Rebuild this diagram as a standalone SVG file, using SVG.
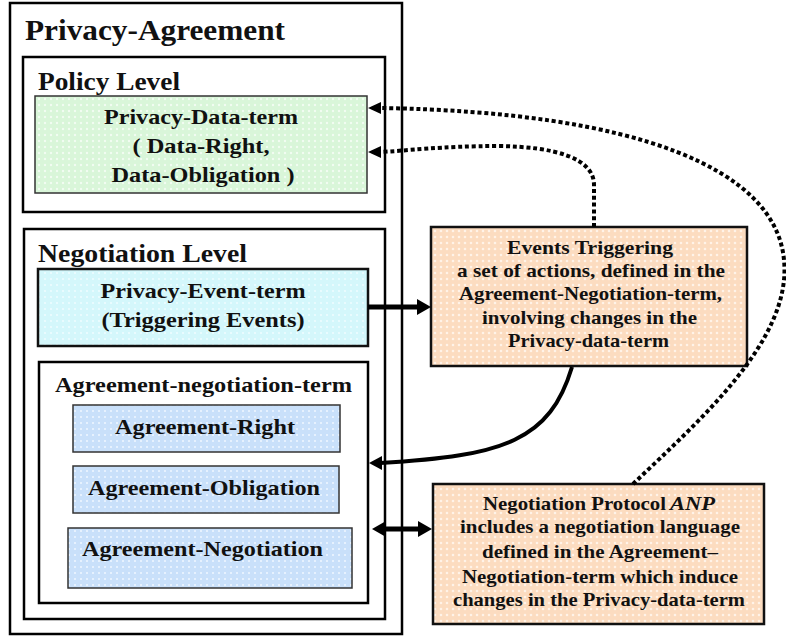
<svg xmlns="http://www.w3.org/2000/svg" width="786" height="637" viewBox="0 0 786 637">
  <style>
    text { font-family: "Liberation Serif", "Times New Roman", serif; font-weight: bold; fill: #111; }
    .frame { fill: #fff; stroke: #000; stroke-width: 2.5; }
    .term { stroke: #333; stroke-width: 1.5; }
    .note { stroke: #111; stroke-width: 2.5; }
    .h1 { font-size: 29px; }
    .h2 { font-size: 25px; }
    .t { font-size: 22px; }
    .n { font-size: 19px; }
    .mid { text-anchor: middle; }
    .solid { fill: none; stroke: #000; }
    .dots { fill: none; stroke: #000; stroke-width: 4; stroke-dasharray: 4 2.8; }
    .head { fill: #000; }
  </style>
  <defs>
    <pattern id="fillGreen" width="6" height="6" patternUnits="userSpaceOnUse">
      <rect width="6" height="6" fill="#d9f6d9"/>
      <circle cx="3" cy="3" r="1.2" fill="#f2fdf2"/>
    </pattern>
    <pattern id="fillCyan" width="6" height="6" patternUnits="userSpaceOnUse">
      <rect width="6" height="6" fill="#d4f7fb"/>
      <circle cx="3" cy="3" r="1.1" fill="#eefdff"/>
    </pattern>
    <pattern id="fillBlue" width="6" height="6" patternUnits="userSpaceOnUse">
      <rect width="6" height="6" fill="#c9e0fa"/>
      <circle cx="3" cy="3" r="1.1" fill="#eef6ff"/>
    </pattern>
    <pattern id="fillPeach" width="6" height="6" patternUnits="userSpaceOnUse">
      <rect width="6" height="6" fill="#fcdcc0"/>
      <circle cx="3" cy="3" r="1.3" fill="#fff3e8"/>
    </pattern>
  </defs>

  <!-- outer container -->
  <g id="privacy-agreement">
    <rect class="frame" x="10" y="3" width="392" height="631"/>
    <text class="h1" x="25" y="40" textLength="260" lengthAdjust="spacingAndGlyphs">Privacy-Agreement</text>
  </g>

  <!-- policy level -->
  <g id="policy-level">
    <rect class="frame" x="23" y="57" width="362" height="155"/>
    <text class="h2" x="38" y="90" textLength="142" lengthAdjust="spacingAndGlyphs">Policy Level</text>
  </g>
  <g id="privacy-data-term">
    <rect class="term" x="35" y="96" width="332" height="97" fill="url(#fillGreen)"/>
    <text class="t mid" x="201" y="124" textLength="194" lengthAdjust="spacingAndGlyphs">Privacy-Data-term</text>
    <text class="t mid" x="201" y="153" textLength="137" lengthAdjust="spacingAndGlyphs">( Data-Right,</text>
    <text class="t mid" x="203" y="182" textLength="183" lengthAdjust="spacingAndGlyphs">Data-Obligation )</text>
  </g>

  <!-- negotiation level -->
  <g id="negotiation-level">
    <rect class="frame" x="24" y="229" width="361" height="390"/>
    <text class="h2" x="38" y="262" textLength="209" lengthAdjust="spacingAndGlyphs">Negotiation Level</text>
  </g>
  <g id="privacy-event-term">
    <rect class="note" x="38" y="269" width="330" height="77" fill="url(#fillCyan)"/>
    <text class="t mid" x="203" y="298" textLength="205" lengthAdjust="spacingAndGlyphs">Privacy-Event-term</text>
    <text class="t mid" x="203" y="327" textLength="203" lengthAdjust="spacingAndGlyphs">(Triggering Events)</text>
  </g>
  <g id="agreement-negotiation-term">
    <rect class="frame" x="39" y="362" width="329" height="241"/>
    <text class="t" x="55" y="392" textLength="297" lengthAdjust="spacingAndGlyphs">Agreement-negotiation-term</text>
  </g>
  <g id="agreement-right">
    <rect class="term" x="73" y="405" width="267" height="47" fill="url(#fillBlue)"/>
    <text class="t" x="115" y="434" textLength="180" lengthAdjust="spacingAndGlyphs">Agreement-Right</text>
  </g>
  <g id="agreement-obligation">
    <rect class="term" x="73" y="466" width="266" height="47" fill="url(#fillBlue)"/>
    <text class="t" x="88" y="495" textLength="232" lengthAdjust="spacingAndGlyphs">Agreement-Obligation</text>
  </g>
  <g id="agreement-negotiation">
    <rect class="term" x="68" y="528" width="284" height="60" fill="url(#fillBlue)"/>
    <text class="t" x="82" y="556" textLength="241" lengthAdjust="spacingAndGlyphs">Agreement-Negotiation</text>
  </g>

  <!-- annotation: triggered actions -->
  <g id="events-triggering">
    <rect class="note" x="431" y="227" width="316" height="139" fill="url(#fillPeach)"/>
    <text class="n" x="507" y="254" textLength="166" lengthAdjust="spacingAndGlyphs">Events  Triggering</text>
    <text class="n" x="457" y="277" textLength="268" lengthAdjust="spacingAndGlyphs">a set of actions, defined in  the</text>
    <text class="n" x="459" y="300" textLength="263" lengthAdjust="spacingAndGlyphs">Agreement-Negotiation-term,</text>
    <text class="n" x="482" y="324" textLength="215" lengthAdjust="spacingAndGlyphs">involving changes in the</text>
    <text class="n" x="508" y="347" textLength="161" lengthAdjust="spacingAndGlyphs">Privacy-data-term</text>
  </g>

  <!-- annotation: negotiation protocol -->
  <g id="negotiation-protocol">
    <rect class="note" x="433" y="484" width="331" height="140" fill="url(#fillPeach)"/>
    <text class="n" x="483" y="510" textLength="183" lengthAdjust="spacingAndGlyphs">Negotiation Protocol</text>
    <text class="n" x="670" y="510" font-style="italic" font-weight="normal" textLength="45" lengthAdjust="spacingAndGlyphs">ANP</text>
    <text class="n" x="460" y="533" textLength="280" lengthAdjust="spacingAndGlyphs">includes a negotiation language</text>
    <text class="n" x="482" y="558" textLength="236" lengthAdjust="spacingAndGlyphs">defined in the Agreement–</text>
    <text class="n" x="462" y="583" textLength="276" lengthAdjust="spacingAndGlyphs">Negotiation-term which induce</text>
    <text class="n" x="453" y="606" textLength="292" lengthAdjust="spacingAndGlyphs">changes in the Privacy-data-term</text>
  </g>

  <!-- connectors -->
  <g id="connectors">
    <!-- event term triggers actions -->
    <line class="solid" x1="368" y1="307" x2="419" y2="307" stroke-width="5"/>
    <polygon class="head" points="431,307 417,299 417,315"/>

    <!-- actions flow back into the agreement-negotiation-term -->
    <path class="solid" d="M572,367 C550,440 505,456 380,463" stroke-width="4"/>
    <polygon class="head" points="369,463 382,456 382,470"/>

    <!-- two-way link with the negotiation protocol -->
    <line class="solid" x1="383" y1="529" x2="421" y2="529" stroke-width="5"/>
    <polygon class="head" points="372,529 386,521 386,537"/>
    <polygon class="head" points="432,529 418,521 418,537"/>

    <!-- changes to the privacy-data-term -->
    <path class="dots" d="M594,227 L594,185 C594,158 555,147 500,146 C440,146 405,151 380,152"/>
    <polygon class="head" points="368,152 381,146 381,158"/>
    <path class="dots" d="M633,484 C700,420 792,340 784,260 C776,170 640,112 380,108"/>
    <polygon class="head" points="368,108 381,102 381,114"/>
  </g>
</svg>
